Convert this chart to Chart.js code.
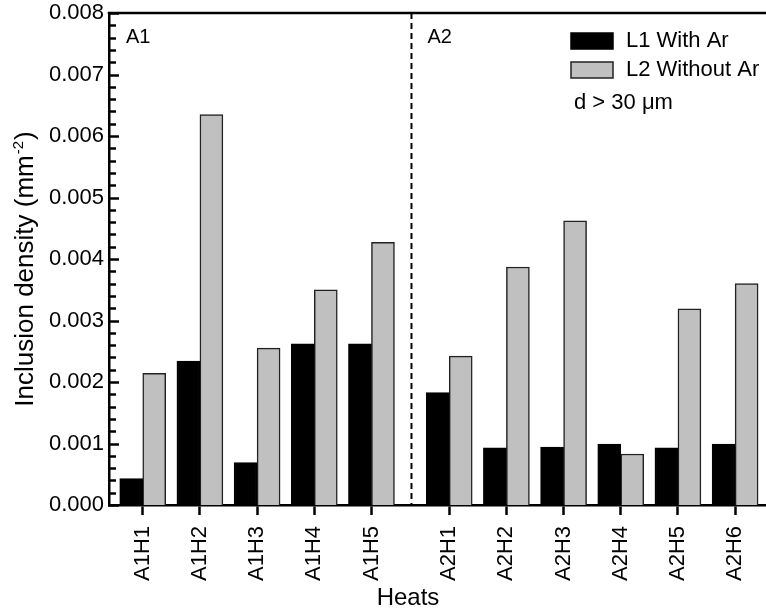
<!DOCTYPE html>
<html>
<head>
<meta charset="utf-8">
<script src="https://cdn.jsdelivr.net/npm/chart.js@4.4.1/dist/chart.umd.min.js"></script>
<style>
  html, body { margin: 0; padding: 0; background: #fff; }
  #wrap { width: 766px; height: 614px; }
</style>
</head>
<body>
<div id="wrap"><canvas id="inclusion-chart" width="766" height="614"></canvas></div>
<script>
// heats on a linear x axis so the A1/A2 groups can have a wider gap between them
let heat_labels = ['A1H1', 'A1H2', 'A1H3', 'A1H4', 'A1H5', 'A2H1', 'A2H2', 'A2H3', 'A2H4', 'A2H5', 'A2H6'];
let heat_positions = [1, 2, 3, 4, 5, 6.36, 7.36, 8.36, 9.36, 10.36, 11.36];
let with_ar = [0.00043, 0.00234, 0.00069, 0.00262, 0.00262, 0.00183, 0.00093, 0.00094, 0.00099, 0.00093, 0.00099];
let without_ar = [0.00214, 0.00635, 0.00255, 0.00350, 0.00427, 0.00242, 0.00387, 0.00462, 0.00083, 0.00319, 0.00360];
let series_names = ['L1 With Ar', 'L2 Without Ar'];
let group_names = ['A1', 'A2'];
let group_split = 5.7;
let note_text = 'd > 30 μm';

const FONT = '"Liberation Sans", Arial, Helvetica, sans-serif';

let colors = {
    with_ar: '#000000',
    without_ar: '#c0c0c0',
    edge: '#222222',
    axis: '#000000'
};

function points(values) {
    return values.map((v, i) => ({x: heat_positions[i], y: v}));
}

let data = {
    datasets: [
        {
            label: series_names[0],
            backgroundColor: colors.with_ar,
            borderColor: colors.with_ar,
            borderWidth: 1.5,
            data: points(with_ar)
        },
        {
            label: series_names[1],
            backgroundColor: colors.without_ar,
            borderColor: colors.edge,
            borderWidth: 1.5,
            data: points(without_ar)
        }
    ]
};

// extra drawing: frame top, inward y ticks, separator, group labels, legend, axis titles
let decorations = {
    id: 'decorations',
    afterDraw(chart) {
        let ctx = chart.ctx;
        let area = chart.chartArea;
        let xs = chart.scales.x;
        let ys = chart.scales.y;
        ctx.save();

        // top frame line
        ctx.strokeStyle = colors.axis;
        ctx.lineWidth = 2.5;
        ctx.beginPath();
        ctx.moveTo(area.left - 1.25, area.top);
        ctx.lineTo(area.right, area.top);
        ctx.stroke();

        // y ticks pointing into the plot
        ctx.lineWidth = 2.5;
        for (let k = 0; k <= 40; k++) {
            let py = Math.round(ys.getPixelForValue(k * 0.0002)) + 0.5;
            let major = k % 5 === 0;
            ctx.beginPath();
            ctx.moveTo(area.left - 1, py);
            ctx.lineTo(area.left + (major ? 10 : 7), py);
            ctx.stroke();
        }

        // dashed separator between the groups
        let sx = xs.getPixelForValue(group_split);
        ctx.lineWidth = 2;
        ctx.setLineDash([6, 4]);
        ctx.beginPath();
        ctx.moveTo(sx, area.top);
        ctx.lineTo(sx, area.bottom);
        ctx.stroke();
        ctx.setLineDash([]);

        // group labels
        ctx.fillStyle = '#000';
        ctx.font = '20px ' + FONT;
        ctx.textBaseline = 'middle';
        ctx.textAlign = 'left';
        ctx.fillText(group_names[0], area.left + 17, area.top + 24);
        ctx.fillText(group_names[1], sx + 16, area.top + 24);

        // legend
        let lx = 571, ly = [33, 62];
        chart.data.datasets.forEach((ds, i) => {
            ctx.fillStyle = ds.backgroundColor;
            ctx.fillRect(lx, ly[i], 42, 16);
            ctx.strokeStyle = ds.borderColor;
            ctx.lineWidth = 1.5;
            ctx.strokeRect(lx, ly[i], 42, 16);
            ctx.fillStyle = '#000';
            ctx.font = '22px ' + FONT;
            ctx.fillText(ds.label, lx + 55, ly[i] + 8);
        });
        ctx.fillText(note_text, lx + 3, 103);

        // x title
        ctx.font = '24px ' + FONT;
        ctx.textAlign = 'center';
        ctx.fillText('Heats', 408, 598);

        // y title with superscript
        let big = '26px ' + FONT, small = '15px ' + FONT;
        let main = 'Inclusion density (mm', sup = '-2', end = ')';
        ctx.font = big;
        let w1 = ctx.measureText(main).width, w3 = ctx.measureText(end).width;
        ctx.font = small;
        let w2 = ctx.measureText(sup).width;
        ctx.translate(26, 270);
        ctx.rotate(-Math.PI / 2);
        ctx.textAlign = 'left';
        let cx = -(w1 + w2 + w3) / 2;
        ctx.font = big;
        ctx.fillText(main, cx, 0);
        cx += w1;
        ctx.font = small;
        ctx.fillText(sup, cx + 1, -7);
        cx += w2 + 2;
        ctx.font = big;
        ctx.fillText(end, cx, 0);

        ctx.restore();
    }
};

let options = {
    responsive: false,
    animation: false,
    devicePixelRatio: 1,
    layout: {
        padding: {top: 13, right: 0, left: 0, bottom: 0}
    },
    barThickness: 23,
    plugins: {
        legend: {display: false},
        title: {display: false},
        tooltip: {enabled: false}
    },
    scales: {
        x: {
            type: 'linear',
            min: 0.41,
            max: 11.9,
            offset: false,
            z: 1,
            afterFit: scale => {
                scale.height = 109;
                scale.paddingLeft = 0;
                scale.paddingRight = 0;
            },
            afterBuildTicks: scale => {
                scale.ticks = heat_positions.map(v => ({value: v}));
            },
            grid: {
                display: true,
                offset: false,
                drawOnChartArea: false,
                drawTicks: true,
                tickLength: 10,
                tickWidth: 2.5,
                tickColor: colors.axis
            },
            border: {display: true, width: 2.5, color: colors.axis},
            ticks: {
                autoSkip: false,
                minRotation: 90,
                maxRotation: 90,
                padding: 11,
                color: '#000',
                font: {family: FONT, size: 22},
                callback: (value, index) => heat_labels[index]
            }
        },
        y: {
            min: 0,
            max: 0.008,
            z: 1,
            afterFit: scale => {
                scale.width = 109;
                scale.paddingTop = 0;
                scale.paddingBottom = 0;
            },
            grid: {display: false, drawTicks: false},
            border: {display: true, width: 2.5, color: colors.axis},
            ticks: {
                stepSize: 0.001,
                padding: 5,
                color: '#000',
                font: {family: FONT, size: 22},
                callback: value => value.toFixed(3)
            }
        }
    }
};

let config = {
    type: 'bar',
    data: data,
    options: options,
    plugins: [decorations]
};

window.inclusionChart = new Chart(document.getElementById('inclusion-chart').getContext('2d'), config);
</script>
</body>
</html>
